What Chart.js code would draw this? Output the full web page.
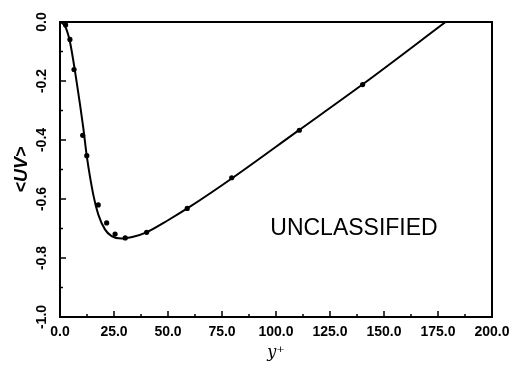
<!DOCTYPE html>
<html>
<head>
<meta charset="utf-8">
<script src="https://cdn.jsdelivr.net/npm/chart.js@4.4.1/dist/chart.umd.min.js"></script>
<style>
  html, body { margin: 0; padding: 0; background: #fff; }
  #wrap { width: 522px; height: 368px; }
</style>
</head>
<body>
<div id="wrap"><canvas id="myChart" width="522" height="368"></canvas></div>
<script>
// measured points (y+, <U'V'>)
const pointX = [2.6, 4.6, 6.5, 10.5, 12.4, 17.7, 21.6, 25.5, 30.2, 40.1, 58.9, 79.5, 110.8, 140.1];
const pointY = [-0.01, -0.059, -0.161, -0.384, -0.453, -0.62, -0.681, -0.719, -0.732, -0.713, -0.632, -0.528, -0.367, -0.212];

// computed curve
const curveX = [0.5, 2.6, 4.6, 7.7, 10.8, 12.4, 15.4, 17.7, 20.8, 23.9, 28.6, 33.9, 40, 50, 60, 80, 110, 140, 178.5];
const curveY = [0, -0.018, -0.067, -0.203, -0.36, -0.455, -0.585, -0.652, -0.703, -0.726, -0.734, -0.728, -0.713, -0.672, -0.627, -0.528, -0.37, -0.212, 0];

// axis ticks
const xTicks = [0, 25, 50, 75, 100, 125, 150, 175, 200];
const xMinor = [12.5, 37.5, 62.5, 87.5, 112.5, 137.5, 162.5, 187.5];
const yTicks = [0, -0.2, -0.4, -0.6, -0.8, -1.0];
const yMinor = [-0.1, -0.3, -0.5, -0.7, -0.9];

const labelFont = { family: "Liberation Sans", size: 14, weight: "bold" };

// frame, inward ticks and the stamp
const framePlugin = {
  id: "frame",
  afterDatasetsDraw(chart) {
    const ctx = chart.ctx;
    const a = chart.chartArea;
    const xs = chart.scales.x;
    const ys = chart.scales.y;
    ctx.save();
    ctx.strokeStyle = "#000";
    ctx.lineWidth = 2;
    ctx.strokeRect(a.left, a.top, a.right - a.left, a.bottom - a.top);

    ctx.lineWidth = 1.5;
    ctx.beginPath();
    xTicks.forEach(v => {
      const px = xs.getPixelForValue(v);
      ctx.moveTo(px, a.bottom);
      ctx.lineTo(px, a.bottom - 6);
    });
    xMinor.forEach(v => {
      const px = xs.getPixelForValue(v);
      ctx.moveTo(px, a.bottom);
      ctx.lineTo(px, a.bottom - 3);
    });
    yTicks.forEach(v => {
      const py = ys.getPixelForValue(v);
      ctx.moveTo(a.left, py);
      ctx.lineTo(a.left + 6, py);
    });
    yMinor.forEach(v => {
      const py = ys.getPixelForValue(v);
      ctx.moveTo(a.left, py);
      ctx.lineTo(a.left + 3, py);
    });
    ctx.stroke();

    ctx.fillStyle = "#000";
    ctx.font = "23px 'Liberation Sans'";
    ctx.textAlign = "center";
    ctx.textBaseline = "middle";
    ctx.fillText("UNCLASSIFIED", 354, 229);
    ctx.restore();
  }
};

const ctx = document.getElementById("myChart").getContext("2d");
const myChart = new Chart(ctx, {
  type: "scatter",
  data: {
    datasets: [
      {
        label: "curve",
        data: curveX.map((x, i) => ({ x: x, y: curveY[i] })),
        showLine: true,
        borderColor: "#000",
        borderWidth: 2,
        pointRadius: 0,
        cubicInterpolationMode: "monotone",
      },
      {
        label: "points",
        data: pointX.map((x, i) => ({ x: x, y: pointY[i] })),
        backgroundColor: "#000",
        borderColor: "#000",
        pointRadius: 2.6,
        borderWidth: 0,
      },
    ],
  },
  options: {
    responsive: false,
    animation: false,
    layout: { padding: { top: 22, right: 30, bottom: 4, left: 0 } },
    plugins: {
      legend: { display: false },
      tooltip: { enabled: false },
    },
    scales: {
      x: {
        type: "linear",
        min: 0,
        max: 200,
        afterBuildTicks: (scale) => { scale.ticks = xTicks.map(v => ({ value: v })); },
        afterFit: (scale) => { scale.height = 47; },
        grid: { display: false, drawTicks: false },
        border: { display: false },
        ticks: {
          color: "#000",
          font: labelFont,
          padding: 7,
          maxRotation: 0,
          callback: (v) => v.toFixed(1),
        },
        title: {
          display: true,
          text: "y\u207A",
          color: "#000",
          font: { family: "DejaVu Serif", size: 16, style: "italic" },
          padding: { top: 0, bottom: 2 },
        },
      },
      y: {
        type: "linear",
        min: -1.0,
        max: 0,
        afterBuildTicks: (scale) => { scale.ticks = yTicks.map(v => ({ value: v })); },
        afterFit: (scale) => { scale.width = 60; },
        grid: { display: false, drawTicks: false },
        border: { display: false },
        ticks: {
          color: "#000",
          font: labelFont,
          padding: 6,
          minRotation: 90,
          maxRotation: 90,
          crossAlign: "center",
          callback: (v) => v.toFixed(1),
        },
        title: {
          display: true,
          text: "<UV>",
          color: "#000",
          font: { family: "Liberation Sans", size: 18, weight: "bold", style: "italic" },
          padding: { top: 11, bottom: 0 },
        },
      },
    },
  },
  plugins: [framePlugin],
});
</script>
</body>
</html>
